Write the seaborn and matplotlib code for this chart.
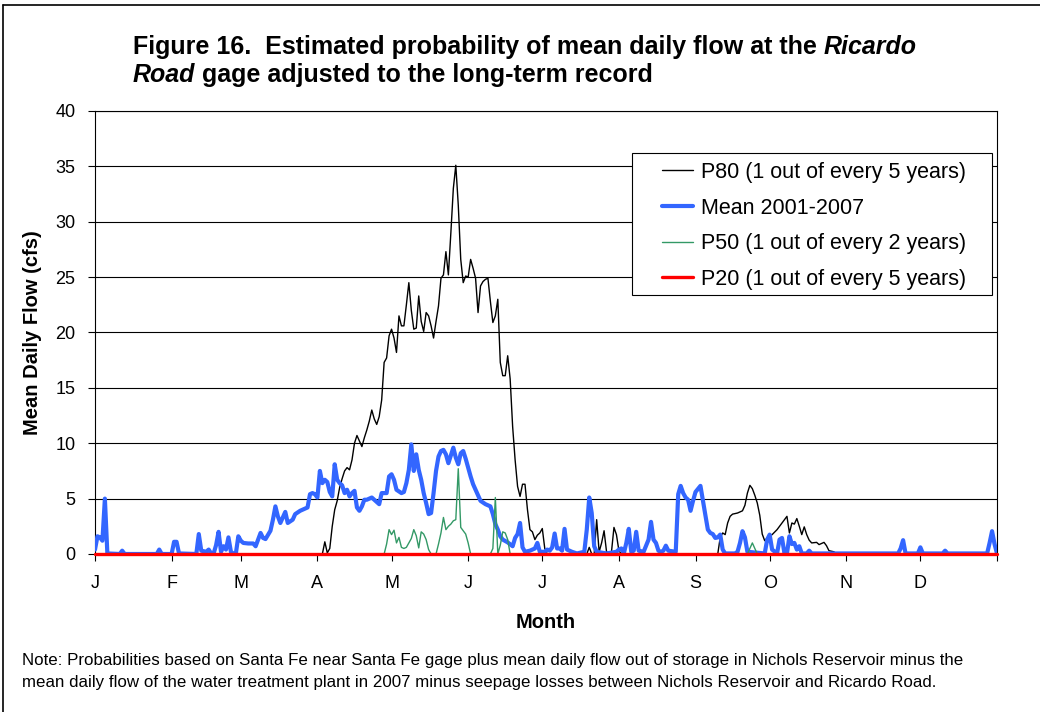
import matplotlib
matplotlib.use("Agg")
import matplotlib.pyplot as plt
import seaborn as sns
import pandas as pd
from matplotlib.lines import Line2D
from matplotlib.patches import Rectangle

# day of year (0 = 1 Jan) and flow in cfs
p80_days = [0, 92, 93, 94, 95, 96, 97, 98, 99, 100, 101, 102, 103, 104, 105, 106, 107, 108, 109, 110,
            111, 112, 113, 114, 115, 116, 117, 118, 119, 120, 121, 122, 123, 124, 125, 126, 127, 128, 129, 130,
            131, 132, 133, 134, 135, 136, 137, 138, 139, 140, 141, 142, 143, 144, 145, 146, 147, 148, 149, 150,
            151, 152, 153, 154, 155, 156, 157, 158, 159, 160, 161, 162, 163, 164, 165, 166, 167, 168, 169, 170,
            171, 172, 173, 174, 175, 176, 177, 178, 179, 180, 181, 182, 183,
            199, 200, 201, 202, 203, 204, 205, 206, 207, 208, 209, 210, 211, 212, 213,
            252, 253, 254, 255, 256, 257, 258, 260, 262, 263, 264, 265, 266, 267, 268, 269, 270, 271, 272,
            274, 276, 278, 280, 281, 282, 283, 284, 285, 286, 287, 288, 289, 290, 292, 293, 294, 295, 296,
            297, 299, 300, 365]
p80_flow = [0, 0, 1.1, 0.1, 0.5, 2.5, 4.0, 4.8, 6.0, 6.8, 7.5, 7.8, 7.6, 8.5, 10.0, 10.7, 10.2, 9.7, 10.5, 11.2,
            12.0, 13.0, 12.2, 11.7, 12.4, 13.9, 17.3, 17.7, 19.7, 20.3, 19.5, 18.2, 21.5, 20.6, 20.6, 22.5, 24.5, 22.0, 20.3, 20.4,
            23.3, 21.0, 20.1, 21.8, 21.5, 20.6, 19.5, 21.0, 22.4, 24.9, 25.2, 27.3, 25.2, 29.0, 33.0, 35.1, 31.5, 26.6, 24.5, 25.1,
            25.0, 26.6, 25.8, 24.9, 21.8, 24.2, 24.6, 24.8, 24.9, 22.8, 20.9, 21.5, 23.0, 17.3, 16.1, 16.1, 17.9, 15.8, 11.5, 8.5,
            6.1, 5.2, 6.3, 6.3, 4.0, 2.2, 2.0, 1.3, 1.7, 1.9, 2.3, 0.5, 0,
            0, 0.6, 0, 0, 3.1, 0.2, 1.0, 2.1, 0.2, 0.1, 0.2, 2.4, 1.75, 0.3, 0,
            0, 1.5, 1.9, 1.75, 2.8, 3.4, 3.6, 3.7, 3.9, 4.4, 5.5, 6.2, 5.9, 5.3, 4.6, 3.5, 1.8, 1.2, 1.45,
            1.75, 2.2, 2.8, 3.4, 1.9, 2.8, 2.7, 3.2, 2.5, 1.75, 2.45, 1.75, 1.25, 1.0, 1.05, 0.85, 0.95, 1.05, 0.75,
            0.3, 0.2, 0, 0]

mean_days = [0, 1, 2, 3, 4, 5, 10, 11, 12, 25, 26, 27, 31, 32, 33, 34, 41, 42, 43, 45, 46, 47, 48, 49, 50,
             51, 52, 53, 54, 55, 56, 57, 58, 59, 60, 62, 64, 65, 67, 68, 69, 71, 72, 73, 74, 75, 77, 78, 80, 81,
             83, 85, 86, 87, 88, 89, 90, 91, 92, 93, 94, 95, 96, 97, 98, 99, 100, 101, 102, 103, 104, 105, 106, 107,
             108, 109, 110, 112, 113, 115, 116, 118, 119, 120, 121, 122, 124, 125, 126, 127, 128, 129, 130, 131, 132,
             133, 134, 135, 136, 137, 138, 139, 140, 141, 142, 143, 144, 145, 146, 147, 148, 149, 150, 151, 152, 153,
             154, 155, 156, 158, 160, 161, 162, 163, 164, 165, 167, 169, 170, 171, 172, 173, 174, 176, 177, 178, 179,
             180, 182, 183, 184, 185, 186, 187, 188, 189, 190, 191, 193, 195, 198, 199, 200, 201, 202, 203, 207, 211,
             212, 213, 214, 215, 216, 217, 218, 219, 220, 222, 224, 225, 226, 227, 228, 229, 230, 231, 232, 235, 236,
             237, 238, 239, 240, 241, 242, 243, 245, 246, 247, 248, 249, 250, 251, 252, 253, 254, 255, 259, 260, 261,
             262, 263, 264, 271, 272, 273, 274, 276, 277, 278, 279, 280, 281, 282, 283, 284, 285, 286, 288, 289, 290,
             325, 326, 327, 328, 333, 334, 335, 343, 344, 345, 361, 362, 363, 364, 365]
mean_flow = [0.4, 1.6, 1.5, 1.2, 5.0, 0.05, 0.0, 0.3, 0.0, 0.0, 0.4, 0.0, 0.0, 1.1, 1.1, 0.05, 0.0, 1.8, 0.3, 0.2, 0.4, 0.05, 0.05, 0.8, 2.0,
             0.2, 0.7, 0.4, 1.5, 0.2, 0.05, 0.05, 1.6, 1.2, 1.0, 0.95, 0.95, 0.7, 1.9, 1.45, 1.35, 2.1, 3.1, 4.3, 3.4, 2.8, 3.8, 2.8, 3.1, 3.6,
             3.9, 4.1, 4.2, 5.4, 5.5, 5.4, 5.1, 7.5, 6.4, 6.7, 6.5, 5.6, 5.2, 8.1, 6.7, 6.4, 6.2, 5.5, 5.8, 5.2, 5.5, 5.7, 4.2, 3.9,
             4.3, 4.9, 4.9, 5.1, 4.9, 4.5, 5.5, 5.5, 7.0, 7.2, 6.7, 5.8, 5.5, 5.6, 6.4, 7.6, 9.9, 7.5, 9.0, 7.6, 6.7,
             5.5, 4.6, 3.6, 3.7, 5.5, 7.5, 8.8, 9.3, 9.4, 9.0, 8.2, 8.9, 9.6, 8.7, 8.1, 9.1, 9.3, 8.6, 7.8, 7.0, 6.3,
             5.8, 5.3, 4.8, 4.5, 4.3, 3.6, 2.7, 2.2, 1.6, 1.3, 1.05, 0.7, 1.45, 1.8, 2.8, 0.6, 0.2, 0.3, 0.4, 0.5, 1.0,
             0.2, 0.2, 0.4, 0.3, 0.6, 1.85, 0.5, 0.5, 0.3, 2.27, 0.4, 0.2, 0.05, 0.2, 2.2, 5.1, 3.7, 0.7, 0.2, 0.05, 0.2,
             0.4, 0.5, 0.05, 1.0, 2.27, 0.2, 0.3, 2.0, 0.3, 0.2, 1.3, 2.9, 1.3, 1.0, 0.3, 0.2, 0.3, 0.75, 0.3, 0.2, 5.4,
             6.15, 5.5, 5.1, 4.9, 3.9, 4.8, 5.6, 6.15, 4.8, 3.5, 2.2, 1.9, 1.8, 1.45, 1.5, 1.75, 0.4, 0.05, 0.05, 0.2, 1.0,
             2.06, 1.5, 0.2, 0.05, 1.3, 1.75, 0.4, 0.05, 1.3, 1.45, 0.05, 0.05, 1.6, 0.9, 1.0, 0.4, 0.7, 0.05, 0.05, 0.3, 0.05,
             0.05, 0.5, 1.25, 0.05, 0.05, 0.6, 0.05, 0.05, 0.3, 0.05, 0.05, 1.0, 2.06, 0.9, 0.05]

p50_days = [0, 117, 118, 119, 120, 121, 122, 123, 124, 125, 126, 127, 128, 129, 130, 131, 132, 133, 134, 135,
            136, 138, 139, 140, 141, 142, 143, 144, 145, 146, 147, 148, 149, 150, 151, 152,
            160, 161, 162, 163, 164, 165, 166, 167, 168, 264, 266, 268, 365]
p50_flow = [0, 0, 0.9, 2.2, 1.75, 2.15, 1.0, 1.5, 0.6, 0.5, 0.6, 1.0, 1.4, 2.2, 1.65, 0.55, 2.0, 1.8, 1.3, 0.4,
            0, 0, 0.9, 1.9, 3.3, 2.2, 2.5, 2.7, 3.0, 3.1, 7.7, 2.4, 2.1, 1.8, 1.0, 0,
            0, 0.5, 5.1, 0, 0.8, 2.0, 1.9, 1.3, 0, 0, 1.0, 0, 0]

p20_days = [0, 365]
p20_flow = [0.0, 0.0]

month_starts = [0, 31, 59, 90, 120, 151, 181, 212, 243, 273, 304, 334, 365]
month_labels = ["J", "F", "M", "A", "M", "J", "J", "A", "S", "O", "N", "D", ""]

series = [
    ("P80 (1 out of every 5 years)", p80_days, p80_flow, "black", 1.0),
    ("Mean 2001-2007", mean_days, mean_flow, "#3366FF", 3.0),
    ("P50 (1 out of every 2 years)", p50_days, p50_flow, "#339966", 1.0),
    ("P20 (1 out of every 5 years)", p20_days, p20_flow, "#FF0000", 2.4),
]

sns.set_style("white")
plt.rcParams['font.family'] = ['Liberation Sans', 'DejaVu Sans']
plt.rcParams['text.color'] = 'black'
plt.rcParams['axes.labelcolor'] = 'black'

W, H = 1040, 712
fig = plt.figure(figsize=(W / 100, H / 100), dpi=100)
ax = fig.add_axes([95 / W, 1 - 554 / H, (997 - 95) / W, (554 - 111) / H])

for i, (name, days, flow, color, lw) in enumerate(series):
    df = pd.DataFrame({'day': days, 'flow': flow})
    sns.lineplot(data=df, x='day', y='flow', color=color, linewidth=lw, ax=ax,
                 zorder=2 + i, estimator=None, sort=False)

# the P20 line sits on the axis, draw it over the spine
ax.lines[-1].set_clip_on(False)
ax.lines[-1].set_zorder(6)

ax.set_xlim(0, 365)
ax.set_ylim(0, 40)
ax.set_yticks(range(0, 41, 5))
ax.set_xticks(month_starts)
ax.set_xticklabels(month_labels)
ax.tick_params(axis='both', direction='out', length=5, width=0.8, colors='black', labelsize=13)
ax.tick_params(axis='x', pad=10, bottom=True)
ax.tick_params(axis='y', pad=9, left=True)
ax.yaxis.grid(True, color='black', linewidth=0.8)
ax.xaxis.grid(False)
ax.set_axisbelow(True)
for sp in ax.spines.values():
    sp.set_visible(True)
    sp.set_color('black')
    sp.set_linewidth(0.8)

ax.set_xlabel("Month", fontsize=14.5, fontweight='bold')
ax.xaxis.set_label_coords(0.5, (554 - 622) / (554 - 111))
ax.xaxis.label.set_verticalalignment('center')
ax.set_ylabel("Mean Daily Flow (cfs)", fontsize=14.5, fontweight='bold')
ax.yaxis.set_label_coords((32 - 95) / (997 - 95), 0.5)
ax.yaxis.label.set_verticalalignment('center')

# legend in a plain box like the spreadsheet original
box = Rectangle((632 / W, 1 - 295 / H), 360 / W, 142 / H, transform=fig.transFigure,
                facecolor='white', edgecolor='black', linewidth=0.8, zorder=10)
ax.add_patch(box)
handles = [Line2D([], [], color=c, linewidth=lw) for _, _, _, c, lw in series]
leg = ax.legend(handles, [s[0] for s in series], loc='upper left',
                bbox_to_anchor=(662 / W, 1 - 162 / H), bbox_transform=fig.transFigure,
                frameon=False, fontsize=15.5, handlelength=1.45, handletextpad=0.35,
                labelspacing=0.68, borderpad=0, borderaxespad=0, labelcolor='black')
leg.set_zorder(11)

# title with the gage name in italics
renderer = fig.canvas.get_renderer()
t1 = fig.text(133 / W, 1 - 54 / H, "Figure 16.  Estimated probability of mean daily flow at the ",
              fontsize=18, fontweight='bold', va='baseline')
bb = t1.get_window_extent(renderer)
fig.text(bb.x1 / W, 1 - 54 / H, "Ricardo", fontsize=18, fontweight='bold', style='italic', va='baseline')
t2 = fig.text(133 / W, 1 - 82 / H, "Road", fontsize=18, fontweight='bold', style='italic', va='baseline')
bb2 = t2.get_window_extent(renderer)
fig.text(bb2.x1 / W, 1 - 82 / H, " gage adjusted to the long-term record", fontsize=18,
         fontweight='bold', va='baseline')

fig.text(22 / W, 1 - 660 / H, "Note: Probabilities based on Santa Fe near Santa Fe gage plus mean daily flow out of "
         "storage in Nichols Reservoir minus the", fontsize=12.2, va='center')
fig.text(22 / W, 1 - 682 / H, "mean daily flow of the water treatment plant in 2007 minus seepage losses between "
         "Nichols Reservoir and Ricardo Road.", fontsize=12.2, va='center')

# outer frame of the figure (left and top edges)
fig.add_artist(Line2D([3 / W, 3 / W], [0, 1 - 5 / H], transform=fig.transFigure, color='black', linewidth=1.2))
fig.add_artist(Line2D([3 / W, 1], [1 - 5 / H, 1 - 5 / H], transform=fig.transFigure, color='black', linewidth=1.2))

fig.savefig("out.png", dpi=100)
